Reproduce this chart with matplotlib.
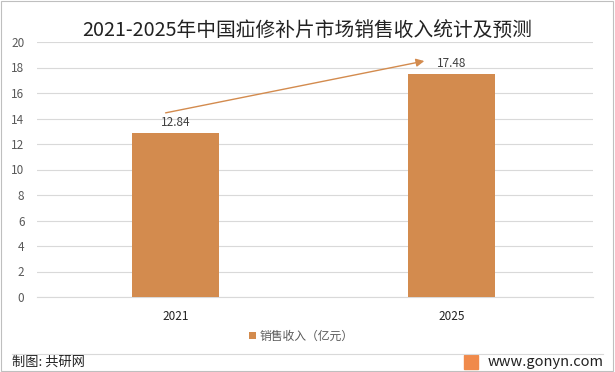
import matplotlib.pyplot as plt
from matplotlib.patches import Rectangle

plt.rcParams['font.family'] = ['Noto Sans CJK SC', 'DejaVu Sans']

# 数据
years = ["2021", "2025"]
ingresos = [12.84, 17.48]
titulo = "2021-2025年中国疝修补片市场销售收入统计及预测"
leyenda = "销售收入（亿元）"
color_barra = "#D38B4E"

fig = plt.figure(figsize=(6.15, 3.72), dpi=100)
ax = fig.add_axes([37/615, 1-297/372, (593-37)/615, (297-42)/372])

x = list(range(len(years)))
ax.bar(x, ingresos, width=0.315, color=color_barra, label=leyenda, zorder=3)
for xi, v in zip(x, ingresos):
    ax.text(xi, v + 0.35, "%.2f" % v, ha="center", va="bottom", fontsize=8.5, color="#404040")

# flecha de tendencia
ax.annotate("", xy=(0.91, 18.55), xytext=(-0.045, 14.4),
            arrowprops=dict(arrowstyle="-|>", color=color_barra, lw=1.0, mutation_scale=12), zorder=4)

ax.set_xlim(-0.5, 1.51)
ax.set_ylim(0, 20)
ax.set_yticks(range(0, 21, 2))
ax.set_xticks(x)
ax.set_xticklabels(years)
ax.tick_params(axis="y", length=0, labelsize=8.5, colors="#595959", pad=9)
ax.tick_params(axis="x", length=0, labelsize=8.5, colors="#222222", pad=9)
ax.grid(axis="y", color="#D9D9D9", lw=0.8, zorder=0)
for s in ["top", "right", "left"]:
    ax.spines[s].set_visible(False)
ax.spines["bottom"].set_color("#D9D9D9")

fig.text(0.5, 1-30/372, titulo, ha="center", va="center", fontsize=14.2, color="#222222")

leg = fig.legend(loc="center", bbox_to_anchor=(0.49, 1-336/372), frameon=False, fontsize=8.5,
                 handlelength=0.6, handleheight=0.6, handletextpad=0.3)
for t in leg.get_texts():
    t.set_color("#595959")

# pie de figura
fig.add_artist(plt.Line2D([12/615, 603/615], [1-354/372, 1-354/372], color="#D9D9D9", lw=0.8))
fig.text(12/615, 1-362/372, "制图: 共研网", ha="left", va="center", fontsize=9.5, color="#222222")
fig.text(604/615, 1-362/372, "www.gonyn.com", ha="right", va="center", fontsize=10.5, color="#222222")
fig.add_artist(Rectangle((464/615, 1-369/372), 14/615, 14/372, color="#F08A4B", transform=fig.transFigure))
fig.add_artist(Rectangle((0.002, 0.003), 0.995, 0.993, fill=False, edgecolor="#BFBFBF", lw=0.8,
                         transform=fig.transFigure))

fig.savefig("out.png", dpi=100)
